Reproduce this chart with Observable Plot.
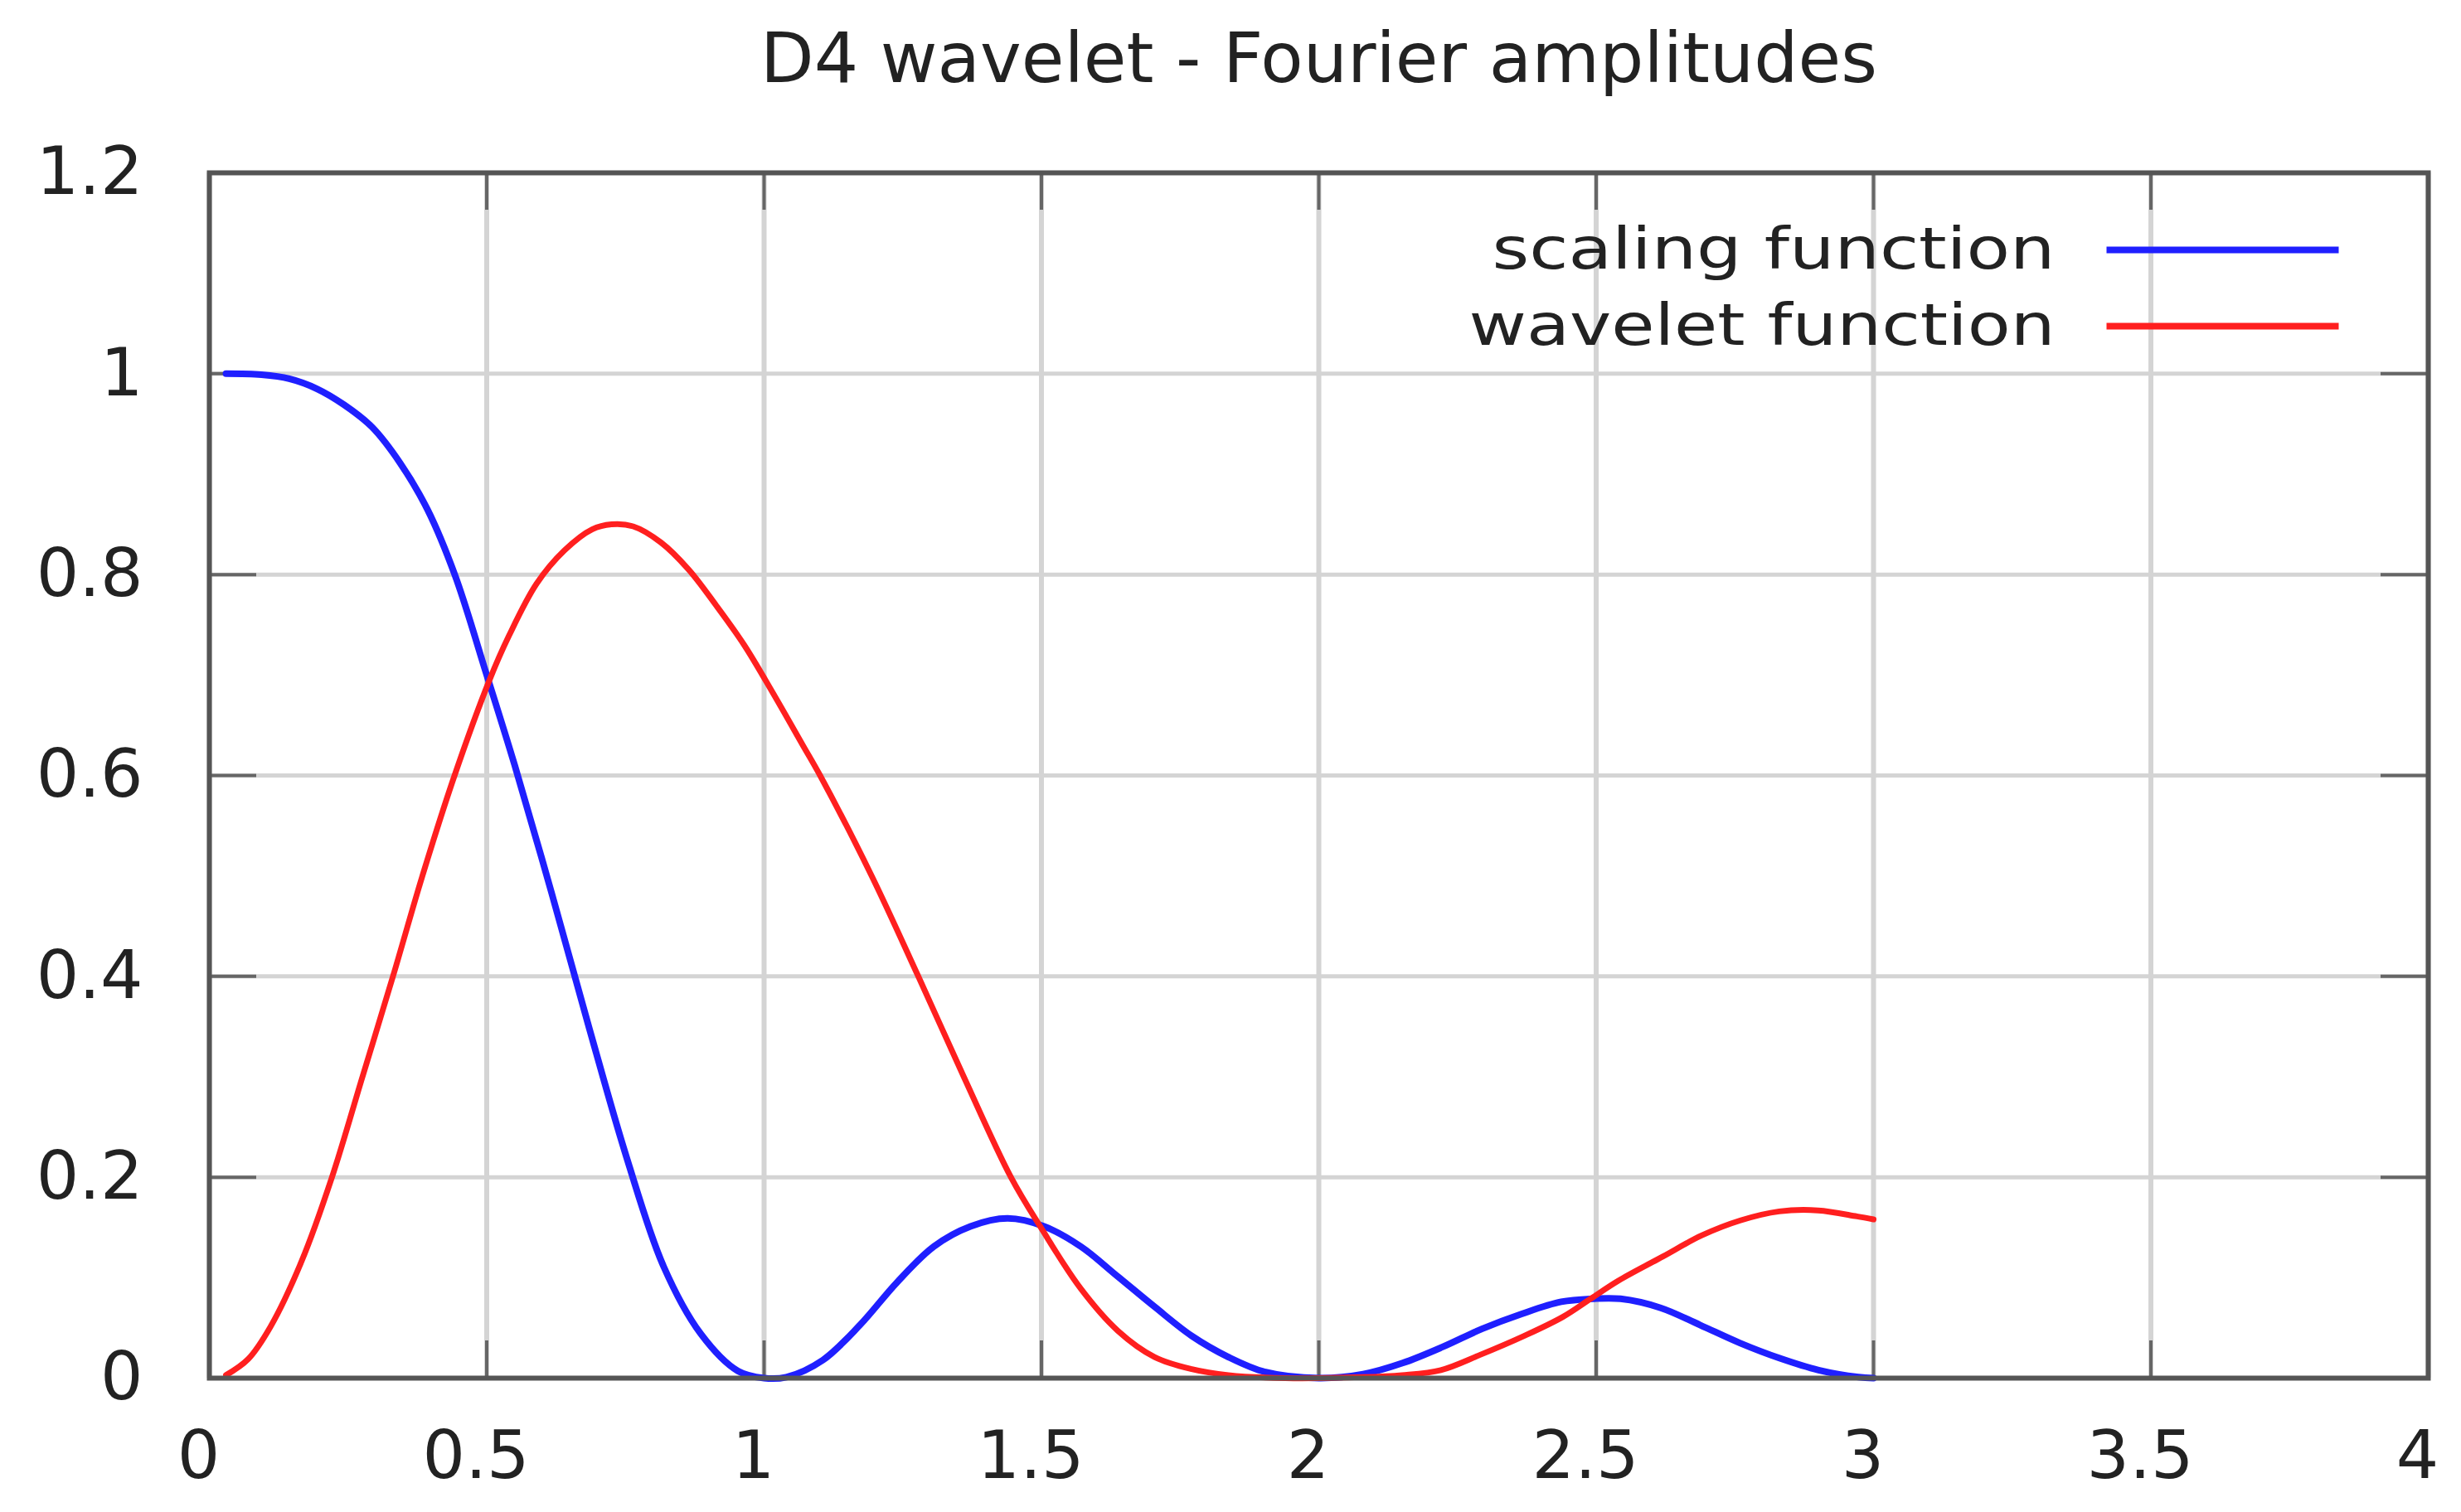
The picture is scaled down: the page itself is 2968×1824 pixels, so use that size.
<!DOCTYPE html>
<html>
<head>
<meta charset="utf-8">
<script src="https://cdn.jsdelivr.net/npm/d3@7"></script>
<script src="https://cdn.jsdelivr.net/npm/@observablehq/plot@0.6"></script>
<style>
  html, body { margin: 0; padding: 0; background: #ffffff; }
</style>
</head>
<body>
<div id="chart"></div>
<script>
// ---- Data ----
const chartTitle = "D4 wavelet - Fourier amplitudes";
const legendLabels = ["scaling function", "wavelet function"];
const seriesColors = ["#1f1fff", "#ff1f1f"];

const scalingX = [0.03, 0.094, 0.144, 0.194, 0.243, 0.293, 0.344, 0.393, 0.443, 0.50,
  0.55, 0.617, 0.685, 0.752, 0.819, 0.886, 0.953, 1.0, 1.04, 1.106,
  1.173, 1.239, 1.306, 1.372, 1.439, 1.505, 1.571, 1.638, 1.704, 1.771,
  1.837, 1.904, 2.0, 2.08, 2.151, 2.223, 2.294, 2.366, 2.437, 2.494,
  2.544, 2.616, 2.687, 2.759, 2.83, 2.901, 2.973, 3.0];
const scalingY = [1.0, 0.999, 0.995, 0.985, 0.969, 0.947, 0.911, 0.865, 0.799, 0.70,
  0.611, 0.483, 0.348, 0.22, 0.111, 0.044, 0.007, 0.0, 0.001, 0.018,
  0.053, 0.095, 0.131, 0.151, 0.159, 0.151, 0.131, 0.101, 0.071, 0.042,
  0.021, 0.006, 0.0, 0.004, 0.015, 0.031, 0.049, 0.064, 0.076, 0.079,
  0.079, 0.070, 0.053, 0.035, 0.020, 0.008, 0.001, 0.0];

const waveletX = [0.03, 0.07, 0.11, 0.166, 0.221, 0.276, 0.331, 0.384, 0.442, 0.505,
  0.54, 0.59, 0.64, 0.69, 0.725, 0.764, 0.814, 0.864, 0.914, 0.964,
  1.014, 1.07, 1.101, 1.194, 1.278, 1.36, 1.445, 1.5, 1.571, 1.638,
  1.704, 1.771, 1.837, 1.94, 2.08, 2.15, 2.22, 2.29, 2.37, 2.44,
  2.49, 2.54, 2.62, 2.69, 2.76, 2.83, 2.9, 2.97, 3.0];
const waveletY = [0.003, 0.019, 0.051, 0.116, 0.2, 0.3, 0.4, 0.5, 0.6, 0.695,
  0.739, 0.791, 0.824, 0.845, 0.850, 0.848, 0.832, 0.805, 0.769, 0.730,
  0.684, 0.630, 0.6, 0.5, 0.4, 0.3, 0.2, 0.149, 0.089, 0.047,
  0.021, 0.009, 0.003, 0.0, 0.001, 0.003, 0.008, 0.023, 0.042, 0.061,
  0.079, 0.097, 0.121, 0.142, 0.157, 0.166, 0.167, 0.161, 0.158];

const xTicks = [0, 0.5, 1, 1.5, 2, 2.5, 3, 3.5, 4];
const xTickLabels = ["0", "0.5", "1", "1.5", "2", "2.5", "3", "3.5", "4"];
const yTicks = [0, 0.2, 0.4, 0.6, 0.8, 1.0, 1.2];
const yTickLabels = ["0", "0.2", "0.4", "0.6", "0.8", "1", "1.2"];

// ---- Layout ----
const W = 2968, H = 1824;
const mL = 252, mR = 40, mT = 208, mB = 162;
const frameW = W - mL - mR, frameH = H - mT - mB;

const scaling = scalingX.map((x, i) => ({x, y: scalingY[i]}));
const wavelet = waveletX.map((x, i) => ({x, y: waveletY[i]}));
const seriesData = [scaling, wavelet];
const seriesWidths = [8, 7];

const gridColor = "#d4d4d4";
const tickColor = "#666666";
const textColor = "#222222";

// horizontal line symbol for the legend samples
const legendLine = {draw(ctx) { ctx.moveTo(-140, 0); ctx.lineTo(140, 0); }};

const legendMarks = [];
legendLabels.forEach((label, i) => {
  legendMarks.push(Plot.text([label], {
    frameAnchor: "top-right", dx: -450, dy: 93 + i * 92,
    textAnchor: "end", lineAnchor: "middle",
    fontSize: 70, fill: textColor
  }));
  legendMarks.push(Plot.dot([label], {
    frameAnchor: "top-right", dx: -248, dy: 93 + i * 92,
    symbol: legendLine, r: 1, fill: "none",
    stroke: seriesColors[i], strokeWidth: 8
  }));
});

const svg = Plot.plot({
  width: W,
  height: H,
  marginLeft: mL,
  marginRight: mR,
  marginTop: mT,
  marginBottom: mB,
  style: {fontFamily: "DejaVu Sans", fontSize: "81px", color: textColor, background: "#ffffff"},
  x: {domain: [0, 4]},
  y: {domain: [0, 1.2]},
  marks: [
    Plot.gridX(xTicks, {stroke: gridColor, strokeOpacity: 1, strokeWidth: 6}),
    Plot.gridY(yTicks, {stroke: gridColor, strokeOpacity: 1, strokeWidth: 5}),
    // inner mirrored ticks
    Plot.tickX(xTicks, {x: d => d, stroke: tickColor, strokeWidth: 4, insetTop: frameH - 45}),
    Plot.tickX(xTicks, {x: d => d, stroke: tickColor, strokeWidth: 4, insetBottom: frameH - 45}),
    Plot.tickY(yTicks, {y: d => d, stroke: tickColor, strokeWidth: 4, insetRight: frameW - 57}),
    Plot.tickY(yTicks, {y: d => d, stroke: tickColor, strokeWidth: 4, insetLeft: frameW - 57}),
    Plot.axisX({ticks: xTicks, tickSize: 0, tickPadding: 63, fontSize: 81, dx: -13,
      tickFormat: d => xTickLabels[xTicks.indexOf(d)], label: null}),
    Plot.axisY({ticks: yTicks, tickSize: 0, tickPadding: 80, fontSize: 81,
      tickFormat: d => yTickLabels[yTicks.findIndex(t => Math.abs(t - d) < 1e-9)], label: null}),
    ...seriesData.map((s, i) => Plot.line(s, {x: "x", y: "y", stroke: seriesColors[i],
      strokeWidth: seriesWidths[i], curve: "catmull-rom"})),
    Plot.frame({stroke: "#555555", strokeWidth: 6}),
    Plot.text([chartTitle], {frameAnchor: "top", dy: -136, lineAnchor: "middle", fontSize: 84, fill: textColor}),
    ...legendMarks
  ]
});

// stretch legend labels to the reference widths
const legendWidths = [679, 707];
d3.select(svg).selectAll("text").each(function() {
  const idx = legendLabels.indexOf(this.textContent);
  if (idx >= 0) {
    this.setAttribute("textLength", legendWidths[idx]);
    this.setAttribute("lengthAdjust", "spacingAndGlyphs");
  }
});

document.getElementById("chart").appendChild(svg);
</script>
</body>
</html>
